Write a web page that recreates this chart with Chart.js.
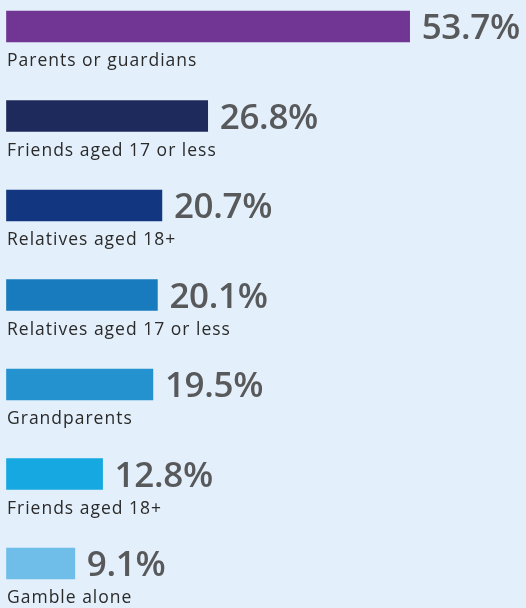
<!DOCTYPE html>
<html>
<head>
<meta charset="utf-8">
<script src="https://cdn.jsdelivr.net/npm/chart.js@4/dist/chart.umd.min.js"></script>
<style>
  html, body { margin: 0; padding: 0; background: #e3effa; }
  #wrap { width: 526px; height: 608px; }
</style>
</head>
<body>
<div id="wrap"><canvas id="barChart" width="526" height="608"></canvas></div>
<script>
const categories = [
  "Parents or guardians",
  "Friends aged 17 or less",
  "Relatives aged 18+",
  "Relatives aged 17 or less",
  "Grandparents",
  "Friends aged 18+",
  "Gamble alone"
];
const values = [53.7, 26.8, 20.7, 20.1, 19.5, 12.8, 9.1];
const barColors = ["#713594", "#1f2a5c", "#12367f", "#177bbd", "#2392cf", "#16a8e1", "#6fbde9"];
const axisMax = 69;

// labels: category under each bar, value to the right
const barLabels = {
  id: "barLabels",
  afterDatasetsDraw(chart) {
    const ctx = chart.ctx;
    const meta = chart.getDatasetMeta(0);
    ctx.save();
    meta.data.forEach((bar, i) => {
      const half = bar.height / 2;
      ctx.textAlign = "left";
      ctx.textBaseline = "alphabetic";

      ctx.fillStyle = "#2a2a2a";
      ctx.font = "17.5px 'Open Sans'";
      ctx.letterSpacing = "1px";
      ctx.fillText(categories[i], bar.base + 0.5, bar.y + half + 24);

      ctx.fillStyle = "#58595b";
      ctx.font = "600 35px 'Open Sans'";
      ctx.letterSpacing = "-0.3px";
      ctx.fillText(values[i].toFixed(1) + "%", bar.x + 12, bar.y + 12.5);
    });
    ctx.restore();
  }
};

new Chart(document.getElementById("barChart"), {
  type: "bar",
  data: {
    labels: categories,
    datasets: [{
      data: values,
      backgroundColor: barColors,
      barThickness: 31,
      clip: false
    }]
  },
  options: {
    indexAxis: "y",
    responsive: false,
    animation: false,
    layout: { padding: { top: 26.5, bottom: 44.5, left: 6.5, right: 1.5 } },
    plugins: { legend: { display: false }, tooltip: { enabled: false } },
    scales: {
      x: { display: false, min: 0, max: axisMax },
      y: { display: false, offset: false }
    }
  },
  plugins: [barLabels]
});
</script>
</body>
</html>
